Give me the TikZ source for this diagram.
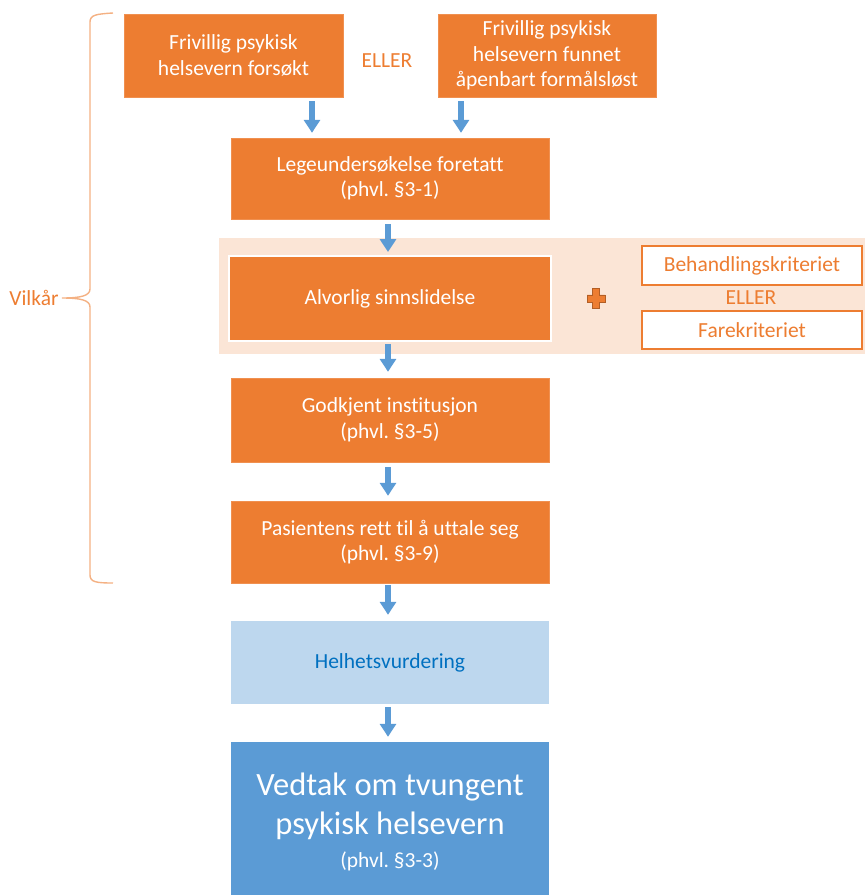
\documentclass[tikz,border=0pt]{standalone}
\usepackage{fontspec}
\setmainfont{Carlito}[Ligatures=NoCommon]
\usetikzlibrary{arrows.meta}
\definecolor{boxorange}{HTML}{ED7D31}
\definecolor{bandpeach}{HTML}{FBE5D6}
\definecolor{boxblue}{HTML}{5B9BD5}
\definecolor{paleblue}{HTML}{BDD7EE}
\definecolor{textblue}{HTML}{0070C0}
\definecolor{braceorange}{HTML}{F4B183}
\frenchspacing
\begin{document}
\begin{tikzpicture}[x=1pt,y=-1pt,
  basebox/.style={rectangle, inner sep=0pt, align=center,
    font=\fontsize{21.5}{25.5}\selectfont},
  obox/.style={basebox, fill=boxorange, draw=boxorange!85!white, text=white},
  critbox/.style={basebox, fill=white, draw=boxorange, line width=1.2pt, text=boxorange},
  orlabel/.style={text=boxorange, font=\fontsize{21.5}{25}\selectfont, inner sep=0pt},
  flow/.style={-{Triangle[width=16pt,length=13pt]}, line width=6pt, draw=boxblue},
]
\useasboundingbox (0,0) rectangle (865,895);

% shaded band behind the diagnosis step
\node[rectangle, fill=bandpeach, minimum width=646pt, minimum height=116pt, inner sep=0pt]
  (band) at (542,296) {};

% entry conditions
\node[obox, minimum width=219pt, minimum height=83pt] (A) at (233.5,55.5)
  {Frivillig psykisk\\helsevern forsøkt};
\node[obox, minimum width=218pt, minimum height=83pt] (B) at (547,55.5)
  {Frivillig psykisk\\helsevern funnet\\åpenbart formålsløst};
\node[orlabel] (or1) at (387,61) {ELLER};

% main chain
\node[obox, minimum width=318pt, minimum height=81pt] (C) at (390,178.5)
  {Legeundersøkelse foretatt\\(phvl. §3-1)};
\node[obox, draw=white, line width=2pt, minimum width=322pt, minimum height=85pt] (D) at (390,298.5)
  {Alvorlig sinnslidelse};
\node[obox, minimum width=318pt, minimum height=84pt] (E) at (390,420)
  {Godkjent institusjon\\(phvl. §3-5)};
\node[obox, minimum width=318pt, minimum height=82pt] (F) at (390,542)
  {Pasientens rett til å uttale seg\\(phvl. §3-9)};
\node[basebox, fill=paleblue, text=textblue, minimum width=318pt, minimum height=83pt] (G) at (390,662.5)
  {Helhetsvurdering};
\node[basebox, fill=boxblue, text=white, minimum width=318pt, minimum height=155pt,
  font=\fontsize{32.5}{39}\selectfont, text depth=0pt] (H) at (390,819.5)
  {};
\node[text=white, align=center, font=\fontsize{32.5}{39}\selectfont, inner sep=0pt]
  (Htext) at (390,822)
  {Vedtak om tvungent\\psykisk helsevern\\[-6pt]{\fontsize{21.5}{25}\selectfont(phvl. §3-3)}};

% criteria
\node[critbox, minimum width=220pt, minimum height=39pt] (K1) at (752,265.5) {Behandlingskriteriet};
\node[critbox, minimum width=220pt, minimum height=38pt] (K2) at (752,330) {Farekriteriet};
\node[orlabel] (or2) at (751,298) {ELLER};

% plus sign
\node[inner sep=0pt, minimum size=18pt] (plus) at (596,298.5) {};
\filldraw[fill=boxorange, draw=boxorange!75!black, line width=0.7pt]
  (plus.center) ++(-3.6,-10) -- ++(7.2,0) -- ++(0,6.4) -- ++(5.4,0) -- ++(0,7.2)
  -- ++(-5.4,0) -- ++(0,6.4) -- ++(-7.2,0) -- ++(0,-6.4) -- ++(-5.4,0) -- ++(0,-7.2)
  -- ++(5.4,0) -- cycle;

% arrow columns
\coordinate (colA) at (312,0);
\coordinate (colB) at (461,0);
\coordinate (colM) at (388,0);

\draw[flow] ([yshift=-4pt]A.south -| colA) -- ([yshift=5pt]C.north -| colA);
\draw[flow] ([yshift=-4pt]B.south -| colB) -- ([yshift=5pt]C.north -| colB);
\draw[flow] ([yshift=-5pt]C.south -| colM) -- ([yshift=3pt]D.north -| colM);
\draw[flow] ([yshift=-2pt]D.south -| colM) -- ([yshift=6pt]E.north -| colM);
\draw[flow] ([yshift=-5pt]E.south -| colM) -- ([yshift=5pt]F.north -| colM);
\draw[flow] ([yshift=-2pt]F.south -| colM) -- ([yshift=6pt]G.north -| colM);
\draw[flow] ([yshift=-3pt]G.south -| colM) -- ([yshift=5pt]H.north -| colM);

% brace grouping the conditions
\node[text=boxorange, font=\fontsize{21.5}{25}\selectfont, inner sep=0pt] (vilkar) at (34,298) {Vilkår};
\draw[braceorange, line width=1.4pt]
  (113,13) .. controls (96,14) and (90,15) .. (90,22) -- (90,289)
  .. controls (90,296) and (80,298) .. (62,298)
  .. controls (80,298) and (90,300) .. (90,307) -- (90,575)
  .. controls (90,582) and (96,583) .. (113,583);
\end{tikzpicture}
\end{document}
